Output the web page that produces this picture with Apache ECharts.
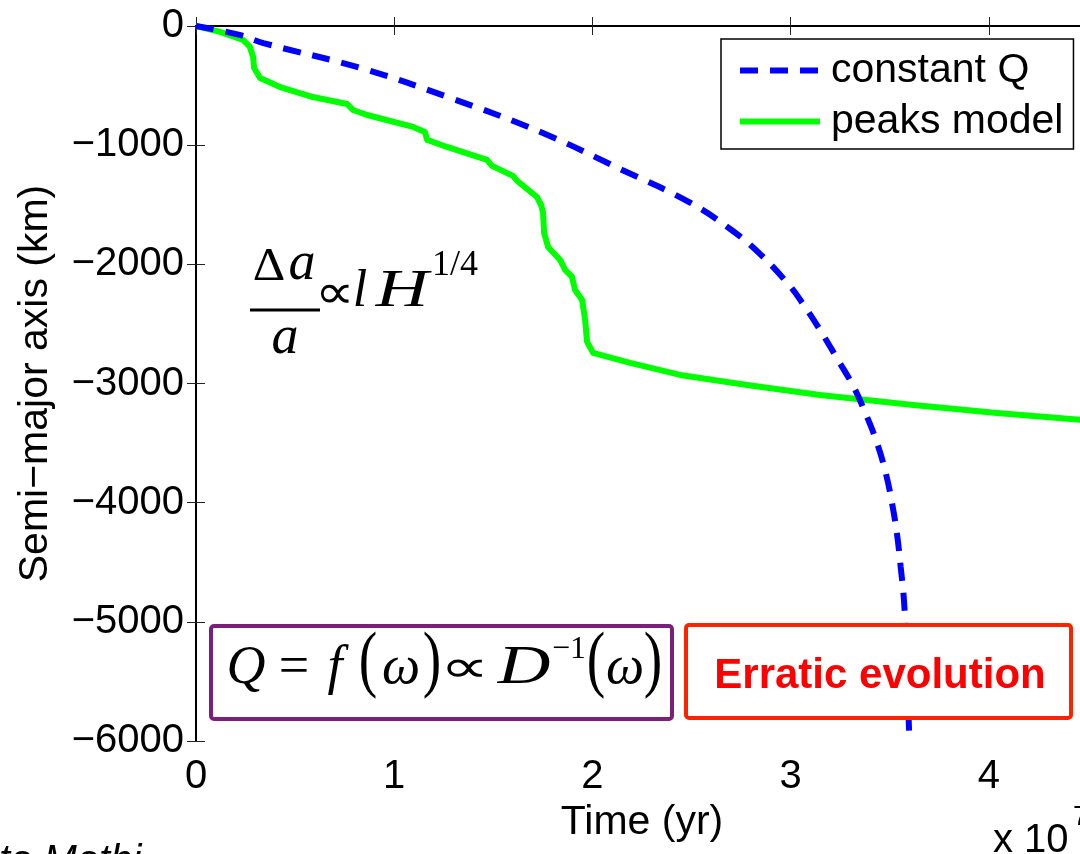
<!DOCTYPE html>
<html>
<head>
<meta charset="utf-8">
<script src="https://cdn.jsdelivr.net/npm/echarts@6/dist/echarts.min.js"></script>
<style>
  html, body { margin: 0; padding: 0; background: #fff; }
  #chart { width: 1080px; height: 854px; }
</style>
</head>
<body>
<div id="chart"></div>
<script>
// Time in units of 1e7 yr, change of semi-major axis in km
const constantQ = [
  [0, 0], [0.22, -75], [0.34, -143], [0.83, -352], [1.27, -596], [1.75, -898],
  [2.15, -1208], [2.49, -1480], [2.70, -1710], [2.85, -1920], [3.0, -2190],
  [3.057, -2320], [3.148, -2550], [3.234, -2790], [3.315, -3020], [3.375, -3240],
  [3.436, -3500], [3.481, -3760], [3.512, -4010], [3.537, -4270], [3.555, -4540],
  [3.572, -4830], [3.586, -5300], [3.597, -5900], [3.602, -6000]
];
const peaksModel = [
  [0, 0], [0.121, -50], [0.237, -117], [0.272, -176], [0.288, -260], [0.293, -352],
  [0.323, -436], [0.424, -512], [0.590, -596], [0.762, -654], [0.792, -705],
  [0.863, -747], [1.095, -847], [1.155, -889], [1.166, -956], [1.266, -1015],
  [1.468, -1124], [1.493, -1174], [1.599, -1258], [1.620, -1300], [1.720, -1435],
  [1.741, -1502], [1.751, -1569], [1.756, -1737], [1.776, -1854], [1.837, -1963],
  [1.862, -2047], [1.897, -2106], [1.912, -2215], [1.948, -2299], [1.963, -2466],
  [1.973, -2651], [2.003, -2743], [2.190, -2827], [2.442, -2928], [2.780, -3012],
  [3.148, -3096], [3.618, -3180], [4.041, -3247], [4.460, -3305], [4.5, -3310]
];
const seriesNames = ['constant Q', 'peaks model'];
const xTicks = { min: 0, max: 4.5, step: 1 };
const yTicks = { min: -6000, max: 0, step: 1000 };

const SANS = 'Liberation Sans, Arial, Helvetica, sans-serif';
const SERIF = 'Liberation Serif, Times New Roman, serif';
const minus = v => String(v).replace('-', '\u2212');

const axisLine = { show: true, lineStyle: { color: '#000', width: 2 } };
const axisTick = { show: true, inside: true, length: 9, lineStyle: { color: '#222', width: 1 } };

// Text helper: y is the glyph baseline, converted to zrender's middle alignment
function txt(x, baseline, text, size, opts) {
  opts = opts || {};
  const family = opts.family || SERIF;
  const asc = family === SANS ? 0.3465 : 0.3375;
  const el = {
    type: 'text', z: 110, x: x, y: baseline - asc * size,
    style: {
      text: text, fill: opts.color || '#000', align: opts.align || 'center', verticalAlign: 'middle',
      font: (opts.style || 'normal') + ' ' + (opts.weight || 'normal') + ' ' + size + 'px ' + family
    }
  };
  if (opts.sx) el.scaleX = opts.sx;
  return el;
}

const chart = echarts.init(document.getElementById('chart'), null, { renderer: 'canvas' });

const graphics = [
  // purple formula box
  { type: 'rect', z: 100, shape: { x: 211, y: 626, width: 461, height: 93, r: 3 },
    style: { fill: '#fff', stroke: '#7B1F7B', lineWidth: 4 } },
  txt(246, 687, 'Q', 54, { style: 'italic' }),
  txt(294, 687, '=', 54),
  txt(335, 687, 'f', 54, { style: 'italic' }),
  txt(368, 689, '(', 74, { sx: 0.75 }),
  txt(401, 687, '\u03c9', 54, { style: 'italic' }),
  txt(432, 689, ')', 74, { sx: 0.75 }),
  txt(465, 685, '\u221d', 46, { sx: 1.5 }),
  txt(524, 687, 'D', 54, { style: 'italic', sx: 1.35 }),
  txt(569, 660, '\u22121', 32),
  txt(596, 689, '(', 74, { sx: 0.75 }),
  txt(625, 687, '\u03c9', 54, { style: 'italic' }),
  txt(653, 689, ')', 74, { sx: 0.75 }),
  // red box
  { type: 'rect', z: 100, shape: { x: 686, y: 625, width: 385, height: 93, r: 3 },
    style: { fill: '#fff', stroke: '#FF2200', lineWidth: 4 } },
  txt(880, 691, 'Erratic evolution', 42, { family: SANS, weight: 'bold', color: '#FF0000' }),
  // delta a / a relation
  txt(269, 283, '\u0394', 46, { sx: 1.1 }),
  txt(302, 283, 'a', 54, { style: 'italic' }),
  { type: 'line', z: 100, shape: { x1: 250, y1: 310, x2: 320, y2: 310 },
    style: { stroke: '#000', lineWidth: 3 } },
  txt(285, 357, 'a', 54, { style: 'italic' }),
  txt(335, 312, '\u221d', 48, { sx: 1.15 }),
  txt(360, 310, 'l', 52, { style: 'italic' }),
  txt(402, 310, 'H', 52, { style: 'italic', sx: 1.4 }),
  txt(432, 278, '1/4', 36, { align: 'left' }),
  // axis multiplier and cut-off caption
  txt(993, 855, 'x 10', 40, { family: SANS, align: 'left' }),
  txt(1073, 827, '7', 28, { family: SANS, align: 'left' }),
  txt(-1, 876, 'ta Mathi', 40, { family: SANS, style: 'italic', align: 'left' })
];

chart.setOption({
  backgroundColor: '#fff',
  animation: false,
  grid: { left: 196, right: -8, top: 26, bottom: 113, containLabel: false, outerBoundsMode: 'none' },
  legend: {
    data: seriesNames, orient: 'vertical', left: 721, top: 39,
    padding: [11, 10, 7, 16], itemGap: 10, itemWidth: 80, itemHeight: 14,
    backgroundColor: '#fff', borderColor: '#000', borderWidth: 1.5, borderRadius: 0,
    itemStyle: { opacity: 0 },
    lineStyle: { width: 6 },
    textStyle: { fontSize: 41, fontFamily: SANS, color: '#000', lineHeight: 41, padding: [0, 0, 0, 6] }
  },
  xAxis: [
    { type: 'value', position: 'bottom', min: xTicks.min, max: xTicks.max, interval: xTicks.step,
      axisLine: axisLine, axisTick: axisTick, splitLine: { show: false },
      axisLabel: { fontSize: 40, fontFamily: SANS, color: '#000', margin: 16, showMaxLabel: false,
        formatter: v => (Number.isInteger(v) ? minus(v) : '') },
      name: 'Time (yr)', nameLocation: 'middle', nameGap: 57,
      nameTextStyle: { fontSize: 41, fontFamily: SANS, color: '#000' } },
    { type: 'value', position: 'top', min: xTicks.min, max: xTicks.max, interval: xTicks.step,
      axisLine: axisLine, axisTick: axisTick, splitLine: { show: false }, axisLabel: { show: false } }
  ],
  yAxis: [
    { type: 'value', position: 'left', min: yTicks.min, max: yTicks.max, interval: yTicks.step,
      axisLine: axisLine, axisTick: axisTick, splitLine: { show: false },
      axisLabel: { fontSize: 40, fontFamily: SANS, color: '#000', margin: 12, formatter: minus },
      name: 'Semi\u2212major axis (km)', nameLocation: 'middle', nameGap: 140,
      nameTextStyle: { fontSize: 41, fontFamily: SANS, color: '#000' } },
    { type: 'value', position: 'right', min: yTicks.min, max: yTicks.max, interval: yTicks.step,
      axisLine: axisLine, axisTick: axisTick, splitLine: { show: false }, axisLabel: { show: false } }
  ],
  series: [
    { name: seriesNames[0], type: 'line', data: constantQ, symbol: 'none', smooth: 0.4,
      color: '#0000FF', lineStyle: { color: '#0000FF', width: 6, type: [18, 12] }, z: 3 },
    { name: seriesNames[1], type: 'line', data: peaksModel, symbol: 'none', smooth: false,
      color: '#00FF00', lineStyle: { color: '#00FF00', width: 6, type: 'solid', join: 'round' }, z: 2 }
  ],
  graphic: graphics
});
</script>
</body>
</html>
